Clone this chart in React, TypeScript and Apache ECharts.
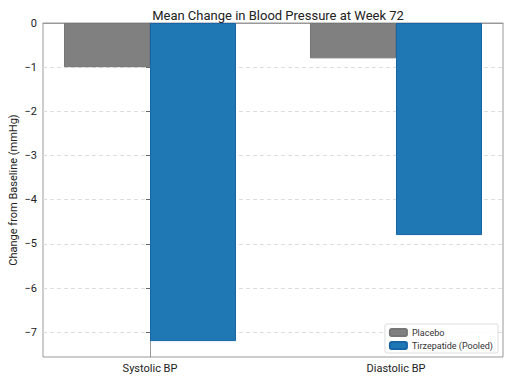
import React, { useEffect, useRef } from "react";
import * as echarts from "echarts";

const categories = ["Systolic BP", "Diastolic BP"];
const placebo = [-1.0, -0.8];
const tirzepatide = [-7.2, -4.8];
const yTicks = [0, -1, -2, -3, -4, -5, -6, -7];
const seriesNames = ["Placebo", "Tirzepatide (Pooled)"];

export default function App() {
  const ref = useRef<HTMLDivElement>(null);
  useEffect(() => {
    document.body.style.margin = "0";
    const chart = echarts.init(ref.current!, null, { renderer: "svg" });
    const font = "Roboto, 'Open Sans', sans-serif";
    const xIdx = categories.map((_, i) => i);
    chart.setOption({
      animation: false,
      backgroundColor: "#ffffff",
      textStyle: { fontFamily: font },
      title: {
        text: "Mean Change in Blood Pressure at Week 72",
        left: 273,
        textAlign: "center",
        top: 4,
        textStyle: { fontSize: 13, fontWeight: "normal", color: "#222", fontFamily: font },
      },
      grid: {
        left: 43,
        right: 9,
        top: 23,
        bottom: 27,
        outerBoundsMode: "none",
        containLabel: false,
        show: true,
        borderColor: "#999",
        borderWidth: 1,
        backgroundColor: "transparent",
      },
      legend: {
        right: 14,
        bottom: 31,
        orient: "vertical",
        itemWidth: 17,
        itemHeight: 7,
        itemGap: 4,
        padding: [4, 5, 3, 4],
        borderColor: "#ddd",
        borderWidth: 1,
        borderRadius: 2,
        backgroundColor: "rgba(255,255,255,0.85)",
        textStyle: { fontSize: 9, color: "#333", fontFamily: font },
        data: seriesNames,
      },
      xAxis: {
        type: "value",
        min: -0.435,
        max: 1.435,
        axisLine: { show: true, lineStyle: { color: "#999" } },
        splitLine: { show: false },
        axisTick: { show: true, customValues: xIdx, length: 4, lineStyle: { color: "#666" } },
        axisLabel: {
          customValues: xIdx,
          formatter: (v: number) => categories[Math.round(v)] ?? "",
          fontSize: 11,
          color: "#222",
          margin: 6,
          fontFamily: font,
        },
      },
      yAxis: {
        type: "value",
        min: -7.56,
        max: 0,
        name: "Change from Baseline (mmHg)",
        nameLocation: "middle",
        nameGap: 24,
        nameMoveOverlap: false,
        nameTextStyle: { fontSize: 11, color: "#222", fontFamily: font },
        axisLine: { show: true, lineStyle: { color: "#999" } },
        axisTick: { show: true, customValues: yTicks, length: 4, lineStyle: { color: "#666" } },
        splitLine: { show: true, customValues: yTicks, lineStyle: { color: "#ddd", type: [4, 3] } },
        axisLabel: {
          customValues: yTicks,
          formatter: (v: number) => (v === 0 ? "0" : "\u2212" + Math.abs(v)),
          fontSize: 11,
          color: "#222",
          margin: 6,
          fontFamily: font,
        },
      },
      series: [
        {
          name: seriesNames[0],
          type: "bar",
          data: placebo.map((v, i) => [i, v]),
          barWidth: 86,
          barGap: "0%",
          itemStyle: { color: "#808080", borderColor: "#767676", borderWidth: 1 },
        },
        {
          name: seriesNames[1],
          type: "bar",
          data: tirzepatide.map((v, i) => [i, v]),
          barWidth: 86,
          barGap: "0%",
          itemStyle: { color: "#1f77b4", borderColor: "#1565a8", borderWidth: 1 },
        },
      ],
    });
    return () => chart.dispose();
  }, []);
  return <div ref={ref} style={{ width: 512, height: 384 }} />;
}
